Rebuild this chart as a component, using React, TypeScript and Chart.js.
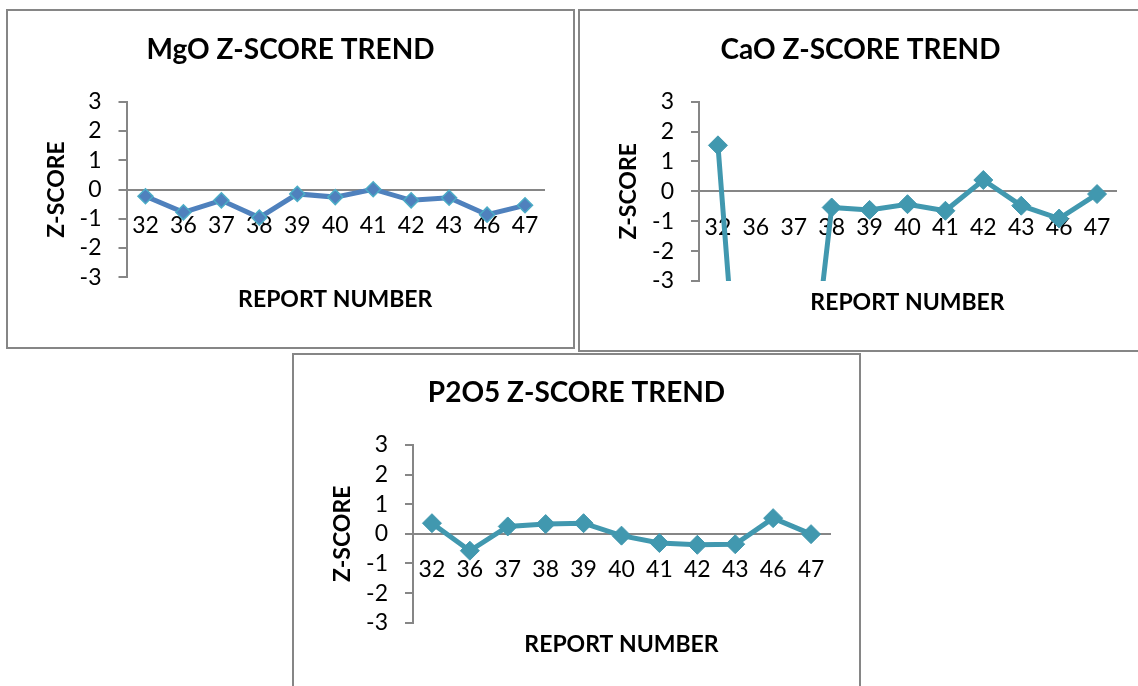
import React, { useEffect, useRef } from "react";
import { Chart, registerables } from "chart.js";

Chart.register(...registerables);

const reportNumbers = ["32", "36", "37", "38", "39", "40", "41", "42", "43", "46", "47"];
const mgoZ = [-0.23, -0.78, -0.37, -0.96, -0.15, -0.26, 0.01, -0.37, -0.28, -0.86, -0.54];
const caoZ = [1.54, -14.8, -11.5, -0.54, -0.62, -0.43, -0.65, 0.38, -0.48, -0.91, -0.09];
const p2o5Z = [0.36, -0.57, 0.25, 0.33, 0.36, -0.06, -0.31, -0.37, -0.35, 0.53, -0.01];
const yTicks = [-3, -2, -1, 0, 1, 2, 3];
const chartTitles = ["MgO Z-SCORE TREND", "CaO Z-SCORE TREND", "P2O5 Z-SCORE TREND"];
const xAxisTitle = "REPORT NUMBER";
const yAxisTitle = "Z-SCORE";

type Geo = {
  box: { left: number; top: number; width: number; height: number };
  area: { left: number; right: number; top: number; bottom: number };
  titleY: number;
  xTitleY: number;
  yTitleX: number;
};

type Props = {
  title: string;
  values: number[];
  geo: Geo;
  lineColor: string;
  pointFill: string;
  pointBorder: string;
  pointRadius: number;
  pointBorderWidth: number;
};

const FONT = "Lato, 'Open Sans', sans-serif";
const AXIS_GRAY = "#868686";
const TITLE_SIZE = 28;
const TICK_SIZE = 23;
const AXIS_TITLE_SIZE = 23;

function ZChart(p: Props) {
  const ref = useRef<HTMLCanvasElement>(null);
  const cw = p.geo.box.width - 4;
  const ch = p.geo.box.height - 4;

  useEffect(() => {
    if (!ref.current) return;
    const g = p.geo;
    const titleLh = TITLE_SIZE * 1.2;
    const titlePadTop = g.titleY - titleLh / 2;
    const titlePadBottom = g.area.top - titlePadTop - titleLh;
    const atLh = AXIS_TITLE_SIZE * 1.2;
    const xtHeight = ch - g.area.bottom;
    const xtPadBottom = ch - g.xTitleY - atLh / 2;
    const ytPadTop = g.yTitleX - atLh / 2;
    const rightSpace = cw - g.area.right;

    const chart = new Chart(ref.current, {
      type: "line",
      data: {
        labels: reportNumbers,
        datasets: [
          {
            data: p.values,
            borderColor: p.lineColor,
            borderWidth: 5,
            pointStyle: "rectRot",
            pointRadius: p.pointRadius,
            pointHoverRadius: p.pointRadius,
            pointBackgroundColor: p.pointFill,
            pointBorderColor: p.pointBorder,
            pointBorderWidth: p.pointBorderWidth,
            tension: 0,
            clip: { left: 30, right: 30, top: 30, bottom: 0 } as any,
          },
        ],
      },
      options: {
        responsive: false,
        animation: false,
        devicePixelRatio: 1,
        layout: { padding: 0 },
        plugins: {
          legend: { display: false },
          tooltip: { enabled: false },
          title: {
            display: true,
            text: p.title,
            color: "#000",
            font: { family: FONT, size: TITLE_SIZE, weight: "bold" },
            padding: { top: titlePadTop, bottom: titlePadBottom },
          },
        },
        scales: {
          x: {
            type: "category",
            position: { y: 0 } as any,
            offset: true,
            grid: { display: false, drawTicks: false },
            border: { display: true, color: AXIS_GRAY, width: 2 },
            ticks: {
              color: "#000",
              font: { family: FONT, size: TICK_SIZE },
              padding: 22,
              maxRotation: 0,
              autoSkip: false,
            },
          },
          xt: {
            type: "category",
            position: "bottom",
            offset: true,
            grid: { display: false, drawTicks: false },
            border: { display: false },
            ticks: { display: false },
            title: {
              display: true,
              text: xAxisTitle,
              color: "#000",
              font: { family: FONT, size: AXIS_TITLE_SIZE, weight: "bold" },
              padding: { top: 0, bottom: xtPadBottom },
            },
            afterFit: (s: any) => {
              s.height = xtHeight;
            },
          },
          y: {
            type: "linear",
            position: "left",
            min: -3,
            max: 3,
            afterBuildTicks: (s: any) => {
              s.ticks = yTicks.map((v) => ({ value: v }));
            },
            grid: {
              display: true,
              drawOnChartArea: false,
              drawTicks: true,
              tickLength: 8,
              color: AXIS_GRAY,
              lineWidth: 2,
            },
            border: { display: true, color: AXIS_GRAY, width: 2 },
            ticks: {
              color: "#000",
              font: { family: FONT, size: TICK_SIZE },
              padding: 17,
              autoSkip: false,
            },
            title: {
              display: true,
              text: yAxisTitle,
              color: "#000",
              font: { family: FONT, size: AXIS_TITLE_SIZE, weight: "bold" },
              padding: { top: ytPadTop, bottom: 0 },
            },
            afterFit: (s: any) => {
              s.width = g.area.left;
            },
          },
          yr: {
            type: "linear",
            position: "right",
            min: -3,
            max: 3,
            grid: { display: false, drawTicks: false },
            border: { display: false },
            ticks: { display: false },
            afterFit: (s: any) => {
              s.width = rightSpace;
            },
          },
        },
      } as any,
    });
    return () => chart.destroy();
  }, []);

  return (
    <div
      style={{
        position: "absolute",
        left: p.geo.box.left,
        top: p.geo.box.top,
        width: p.geo.box.width,
        height: p.geo.box.height,
        boxSizing: "border-box",
        border: `2px solid ${AXIS_GRAY}`,
        background: "#fff",
      }}
    >
      <canvas
        ref={ref}
        width={cw}
        height={ch}
        style={{ position: "absolute", left: 0, top: 0, width: cw, height: ch, display: "block" }}
      />
    </div>
  );
}

const geo1: Geo = {
  box: { left: 6, top: 9, width: 569, height: 340 },
  area: { left: 118.5, right: 536, top: 90.7, bottom: 266.3 },
  titleY: 39,
  xTitleY: 289,
  yTitleX: 49,
};
const geo2: Geo = {
  box: { left: 578, top: 9, width: 565, height: 343 },
  area: { left: 119, right: 536, top: 90.7, bottom: 270 },
  titleY: 39,
  xTitleY: 291.5,
  yTitleX: 49,
};
const geo3: Geo = {
  box: { left: 292, top: 353, width: 569, height: 340 },
  area: { left: 119, right: 536, top: 90, bottom: 267.7 },
  titleY: 38,
  xTitleY: 290,
  yTitleX: 48.5,
};

export default function App() {
  return (
    <div
      style={{
        position: "absolute",
        left: 0,
        top: 0,
        width: 1138,
        height: 686,
        overflow: "hidden",
        background: "#fff",
      }}
    >
      <ZChart
        title={chartTitles[0]}
        values={mgoZ}
        geo={geo1}
        lineColor="#4F81BD"
        pointFill="#4F81BD"
        pointBorder="#4BACC6"
        pointRadius={7.5}
        pointBorderWidth={1.5}
      />
      <ZChart
        title={chartTitles[1]}
        values={caoZ}
        geo={geo2}
        lineColor="#4198AF"
        pointFill="#4198AF"
        pointBorder="#4198AF"
        pointRadius={9.5}
        pointBorderWidth={1}
      />
      <ZChart
        title={chartTitles[2]}
        values={p2o5Z}
        geo={geo3}
        lineColor="#4198AF"
        pointFill="#4198AF"
        pointBorder="#4198AF"
        pointRadius={9.5}
        pointBorderWidth={1}
      />
    </div>
  );
}
